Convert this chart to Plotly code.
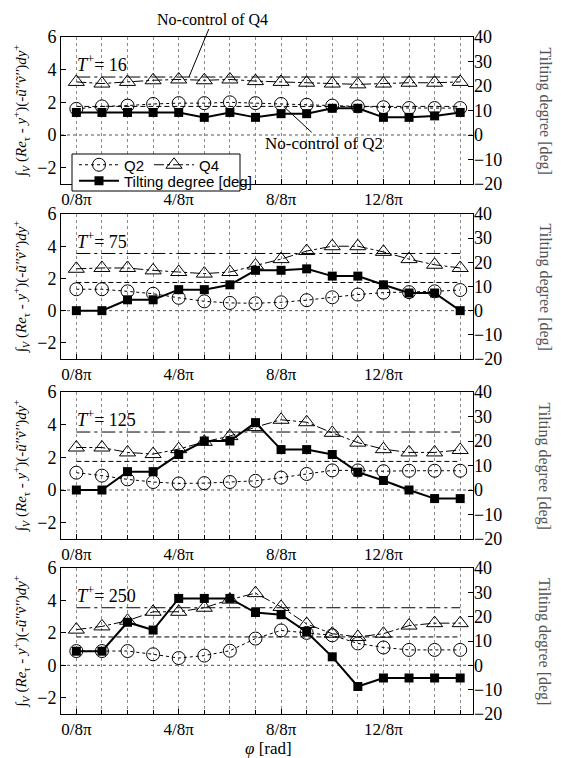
import plotly.graph_objects as go

phi_index = list(range(16))
tick_vals = [0, 4, 8, 12]
tick_text = ["0/8π", "4/8π", "8/8π", "12/8π"]
panel_labels = ["16", "75", "125", "250"]

nocontrol_q2 = 1.75
nocontrol_q4 = 3.55

q2_T16 = [1.6, 1.75, 1.8, 1.9, 1.95, 1.95, 2.0, 1.95, 1.9, 1.85, 1.8, 1.75, 1.7, 1.65, 1.65, 1.65]
q4_T16 = [3.25, 3.15, 3.25, 3.35, 3.4, 3.35, 3.4, 3.3, 3.25, 3.2, 3.15, 3.1, 3.15, 3.2, 3.2, 3.25]
tilt_T16 = [9.2, 9.2, 9.2, 9.2, 9.2, 7.2, 9.2, 7.2, 8.7, 8.7, 10.9, 10.9, 7.2, 7.2, 7.8, 9.2]

q2_T75 = [1.33, 1.33, 1.2, 1.05, 0.8, 0.58, 0.48, 0.46, 0.52, 0.65, 0.83, 1.0, 1.12, 1.15, 1.2, 1.28]
q4_T75 = [2.6, 2.65, 2.65, 2.5, 2.4, 2.3, 2.4, 2.8, 3.2, 3.7, 4.0, 4.0, 3.65, 3.2, 2.85, 2.65]
tilt_T75 = [0, 0, 4.5, 4.5, 8.7, 8.7, 10.7, 16.7, 16.7, 17.3, 14.3, 14.3, 10.7, 7.3, 7.3, 0]

q2_T125 = [1.06, 0.88, 0.65, 0.49, 0.4, 0.42, 0.49, 0.56, 0.76, 0.98, 1.2, 1.2, 1.15, 1.18, 1.18, 1.18]
q4_T125 = [2.6, 2.6, 2.3, 2.2, 2.5, 2.95, 3.3, 3.85, 4.3, 4.15, 3.5, 2.9, 2.5, 2.3, 2.3, 2.45]
tilt_T125 = [0, 0, 7.5, 7.5, 14.5, 20, 20, 27.5, 16.5, 16.5, 14.5, 7.3, 3.9, 0, -3.5, -3.5]

q2_T250 = [0.88, 0.88, 0.88, 0.68, 0.45, 0.6, 0.9, 1.65, 2.15, 2.0, 1.85, 1.35, 1.1, 0.95, 0.95, 0.95]
q4_T250 = [2.2, 2.4, 2.75, 3.3, 3.3, 3.55, 4.05, 4.45, 3.6, 2.55, 1.95, 1.75, 1.95, 2.45, 2.6, 2.6]
tilt_T250 = [5.8, 5.8, 17.7, 14.5, 27.5, 27.5, 27.5, 21.7, 20.8, 13.7, 3.5, -8.7, -5.2, -5.2, -5.2, -5.2]

q2_all = [q2_T16, q2_T75, q2_T125, q2_T250]
q4_all = [q4_T16, q4_T75, q4_T125, q4_T250]
tilt_all = [tilt_T16, tilt_T75, tilt_T125, tilt_T250]

# the page body adds an 8px margin, so the figure is drawn 8px in from the corner
OFF = 8
W, H = 561 - OFF, 758 - OFF
# plot frame in screen pixels: left 61, right 473, top 37, bottom 714
ML = 61 - OFF
MR = W - (473 - OFF)
MT = 37 - OFF
MB = H - (714 - OFF)
PW = W - ML - MR
PH = H - MT - MB
panel_px = [(37, 184), (214, 359), (392, 539), (568, 714)]


def py2paper(sy):
    return (H - MB - (sy - OFF)) / PH


def px2paper(sx):
    return (sx - OFF - ML) / PW


SERIF = "Liberation Serif"
SANS = "Liberation Sans"
GRID = "#8a8a8a"

fig = go.Figure()
layout = dict(
    template="none",
    width=W, height=H,
    margin=dict(l=ML, r=MR, t=MT, b=MB, pad=0, autoexpand=False),
    paper_bgcolor="white", plot_bgcolor="white",
    font=dict(family=SERIF, size=17, color="black"),
    showlegend=True,
)
annotations = []
shapes = []

left_title = ("∫<sub><i>V</i></sub> (<i>Re</i><sub>τ</sub> - <i>y</i><sup>+</sup>)"
              "(-<i>ũ''ṽ''</i>)<i>dy</i><sup>+</sup>")

for i in range(4):
    n = i + 1
    xa = "x" if n == 1 else f"x{n}"
    yl_n = 2 * i + 1
    yr_n = 2 * i + 2
    yl = "y" if yl_n == 1 else f"y{yl_n}"
    yr = f"y{yr_n}"
    top, bot = panel_px[i]
    dom = [py2paper(bot), py2paper(top)]

    layout["xaxis" + ("" if n == 1 else str(n))] = dict(
        domain=[0, 1], anchor=yl, range=[-0.6, 15.5], automargin=False,
        tickmode="array", tickvals=tick_vals, ticktext=tick_text,
        ticks="inside", ticklen=5, tickcolor="black",
        showgrid=True, griddash="dot", gridcolor=GRID, gridwidth=1,
        minor=dict(tickmode="array", tickvals=phi_index, ticks="inside", ticklen=4,
                   tickcolor="black", showgrid=True, griddash="dot", gridcolor=GRID),
        showline=True, linecolor="black", linewidth=1, mirror=True,
        zeroline=False, tickfont=dict(family=SERIF, size=17),
    )
    layout["yaxis" + ("" if yl_n == 1 else str(yl_n))] = dict(
        domain=dom, anchor=xa, range=[-3, 6], automargin=False,
        tickmode="array", tickvals=[-2, 0, 2, 4, 6],
        ticks="inside", ticklen=5, tickcolor="black",
        showgrid=False, zeroline=False,
        showline=True, linecolor="black", linewidth=1, mirror=True,
        tickfont=dict(family=SERIF, size=18),
        title=dict(text=left_title, font=dict(family=SERIF, size=15), standoff=6),
    )
    layout["yaxis" + str(yr_n)] = dict(
        domain=dom, anchor=xa, overlaying=yl, side="right", range=[-20, 40],
        automargin=False,
        tickmode="array", tickvals=[-20, -10, 0, 10, 20, 30, 40],
        ticks="inside", ticklen=5, tickcolor="black",
        showgrid=False, zeroline=False, showline=False,
        tickfont=dict(family=SERIF, size=18),
    )

    # dotted zero line
    shapes.append(dict(type="line", xref=f"{xa} domain", yref=yl, x0=0, x1=1, y0=0, y1=0,
                       line=dict(color="#555", width=1, dash="dot"), layer="below"))

    # no-control reference lines
    fig.add_trace(go.Scatter(x=[phi_index[0], phi_index[-1]], y=[nocontrol_q4] * 2,
                             xaxis=xa, yaxis=yl, mode="lines", showlegend=False,
                             line=dict(color="black", width=1, dash="14px,4px,3px,4px"),
                             hoverinfo="skip"))
    fig.add_trace(go.Scatter(x=[phi_index[0], phi_index[-1]], y=[nocontrol_q2] * 2,
                             xaxis=xa, yaxis=yl, mode="lines", showlegend=False,
                             line=dict(color="black", width=1, dash="5px,3px"),
                             hoverinfo="skip"))

    fig.add_trace(go.Scatter(x=phi_index, y=q2_all[i], xaxis=xa, yaxis=yl, name="Q2",
                             mode="lines+markers", showlegend=(n == 1), legend="legend",
                             line=dict(color="black", width=1, dash="3px,3px"),
                             marker=dict(symbol="circle-open", size=13, color="black",
                                         line=dict(width=1, color="black"))))
    fig.add_trace(go.Scatter(x=phi_index, y=q4_all[i], xaxis=xa, yaxis=yl, name="Q4",
                             mode="lines+markers", showlegend=(n == 1), legend="legend",
                             line=dict(color="black", width=1, dash="10px,3px,3px,3px"),
                             marker=dict(symbol="triangle-up-open", size=14, color="black",
                                         line=dict(width=1, color="black"))))
    fig.add_trace(go.Scatter(x=phi_index, y=tilt_all[i], xaxis=xa, yaxis=yr,
                             name="Tilting degree [deg]",
                             mode="lines+markers", showlegend=(n == 1), legend="legend2",
                             line=dict(color="black", width=2),
                             marker=dict(symbol="square", size=9, color="black")))

    annotations.append(dict(text=f"<i>T</i><sup>+</sup>= {panel_labels[i]}",
                            xref=f"{xa} domain", yref=f"{yl} domain",
                            x=0.035, y=0.82, xanchor="left", yanchor="middle",
                            showarrow=False, font=dict(family=SERIF, size=18)))
    annotations.append(dict(text="Tilting degree [deg]", xref="paper", yref="paper",
                            x=px2paper(544), y=(dom[0] + dom[1]) / 2, textangle=90,
                            xanchor="center", yanchor="middle", showarrow=False,
                            font=dict(family=SERIF, size=16, color="#555")))

# x-axis title of the bottom panel
annotations.append(dict(text="<i>φ</i> [rad]", xref="paper", yref="paper",
                        x=px2paper(268), y=py2paper(748), xanchor="center", yanchor="middle",
                        showarrow=False, font=dict(family=SERIF, size=17)))

# callouts in the first panel
annotations.append(dict(text="No-control of Q4", xref="x", yref="y", x=4.4, y=nocontrol_q4,
                        ax=24, ay=-58, showarrow=True, arrowhead=0, arrowwidth=1,
                        arrowcolor="black", font=dict(family=SERIF, size=16)))
annotations.append(dict(text="No-control of Q2", xref="x", yref="y", x=8.1, y=nocontrol_q2,
                        ax=40, ay=37, showarrow=True, arrowhead=0, arrowwidth=1,
                        arrowcolor="black", font=dict(family=SERIF, size=17)))

# legend box
box_x0, box_x1 = px2paper(72), px2paper(240)
box_y0, box_y1 = py2paper(191), py2paper(154)
shapes.append(dict(type="rect", xref="paper", yref="paper", x0=box_x0, x1=box_x1,
                   y0=box_y0, y1=box_y1, fillcolor="white",
                   line=dict(color="black", width=1), layer="above"))

layout["legend"] = dict(x=px2paper(74), y=py2paper(165), xanchor="left", yanchor="middle",
                        orientation="h", bgcolor="rgba(0,0,0,0)", borderwidth=0,
                        font=dict(family=SANS, size=15), itemwidth=40,
                        tracegroupgap=0, itemsizing="trace")
layout["legend2"] = dict(x=px2paper(74), y=py2paper(181), xanchor="left", yanchor="middle",
                         orientation="h", bgcolor="rgba(0,0,0,0)", borderwidth=0,
                         font=dict(family=SANS, size=15), itemwidth=40)

layout["annotations"] = annotations
layout["shapes"] = shapes
fig.update_layout(**layout)
fig.write_html("out.html")
